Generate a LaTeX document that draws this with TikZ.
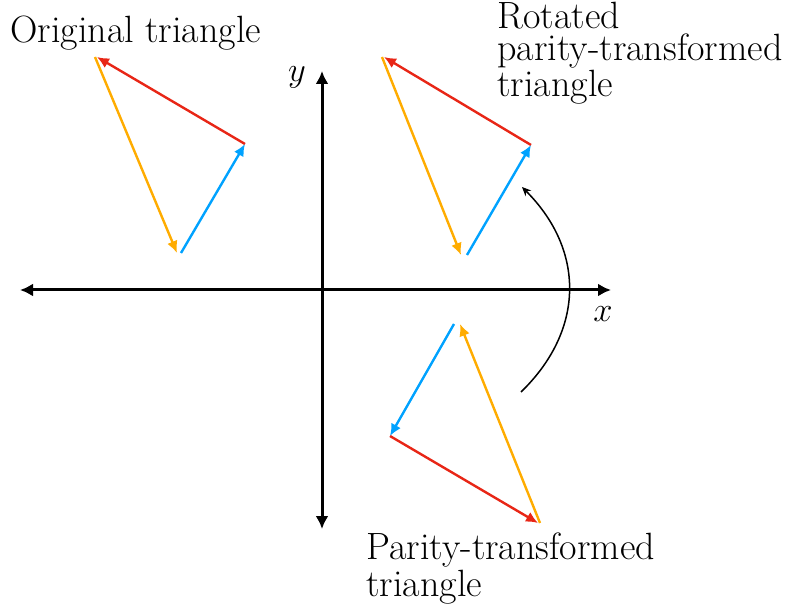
\documentclass[tikz,border=0pt]{standalone}
\usepackage{xcolor}
\usepackage{tikz}
\usetikzlibrary{positioning,arrows.meta}

\definecolor{sidered}{RGB}{232,38,22}
\definecolor{sideorange}{RGB}{255,172,0}
\definecolor{sideblue}{RGB}{0,162,255}

\begin{document}
\begin{tikzpicture}[x=0.5pt, y=-0.5pt,
  axis/.style={{Latex[length=6.5pt,width=6.5pt]}-{Latex[length=6.5pt,width=6.5pt]}, line width=1.5pt},
  side/.style={-{Latex[length=6pt,width=5.5pt]}, line width=1.2pt},
  lbl/.style={font=\fontsize{19}{16.25}\selectfont, inner sep=0pt, align=left}]
\useasboundingbox (0,0) rectangle (787,604);
% axes
\coordinate (xl) at (20,290); \coordinate (xr) at (611,290);
\coordinate (yt) at (322,71); \coordinate (yb) at (322,529);
\draw[axis] (xl) -- (xr);
\draw[axis] (yb) -- (yt);
\node[lbl] (xlab) at (603,314) {$x$};
\node[lbl] (ylab) at (297,77) {$y$};
% original
\coordinate (oa) at (97,57); \coordinate (ob) at (245,144); \coordinate (oc) at (177,253);
\draw[side, sidered] (ob) -- (oa);
\draw[side, sideorange] ([xshift=-1]oa) -- (oc);
\draw[side, sideblue] ([xshift=2]oc) -- (ob);
\node[lbl, anchor=base west] (otext) at (10,43) {Original triangle};
% rotated
\coordinate (ra) at (384,57); \coordinate (rb) at (531,145); \coordinate (rc) at (461,255);
\draw[side, sidered] (rb) -- (ra);
\draw[side, sideorange] ([xshift=-1]ra) -- (rc);
\draw[side, sideblue] ([xshift=3]rc) -- (rb);
\node[lbl, anchor=north west] (rtext) at (497,1.5) {Rotated\\parity-transformed\\triangle};
% parity
\coordinate (pa) at (390,436); \coordinate (pb) at (538,523); \coordinate (pc) at (460,324);
\draw[side, sidered] (pa) -- (pb);
\draw[side, sideorange] ([xshift=1]pb) -- (pc);
\draw[side, sideblue] ([xshift=-3]pc) -- (pa);
\node[lbl, anchor=north west, font=\fontsize{19}{18.5}\selectfont] (ptext) at (366,532) {Parity-transformed\\triangle};
% curved arrow
\coordinate (cs) at (521,392); \coordinate (ce) at (522,187);
\draw[-{Stealth[length=4.5pt,width=4pt]}, line width=0.75pt] (cs) .. controls (585,330) and (585,250) .. (ce);
\end{tikzpicture}
\end{document}
